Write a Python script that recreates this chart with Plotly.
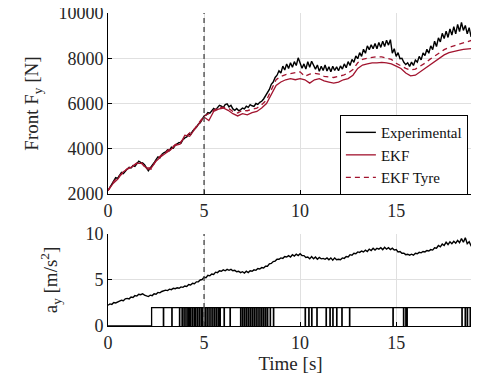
import numpy as np
import plotly.graph_objects as go
from plotly.subplots import make_subplots

# ---------------- data ----------------
t_exp = np.round(np.arange(0, 191) * 0.1, 2)
exp_fy = [
    2150, 2300, 2480, 2600, 2720, 2690, 2850, 2950, 2900, 3020,
    3100, 3180, 3150, 3260, 3220, 3330, 3450, 3400, 3380, 3300,
    3150, 3030, 3150, 3250, 3380, 3520, 3640, 3600, 3750, 3820,
    3860, 3950, 3920, 4070, 4030, 4150, 4200, 4280, 4250, 4400,
    4480, 4520, 4650, 4620, 4780, 4850, 4950, 5080, 5150, 5300,
    5450, 5480, 5600, 5570, 5700, 5780, 5720, 5850, 5920, 5880,
    5820, 5950, 5980, 5850, 5920, 5760, 5700, 5780, 5680, 5720,
    5800, 5760, 5880, 5830, 5950, 5900, 5870, 6000, 5960, 6050,
    6100, 6200, 6350, 6500, 6620, 6850, 6950, 7150, 7250, 7450,
    7350, 7650, 7480, 7750, 7550, 7800, 7600, 7850, 7680, 8020,
    7820, 7560, 7750, 7520, 7850, 7600, 7870, 7650, 7520, 7700,
    7420, 7650, 7460, 7700, 7440, 7620, 7400, 7650, 7460, 7620,
    7450, 7660, 7520, 7750, 7580, 7850, 7680, 7950, 7820, 8100,
    7980, 8250, 8080, 8400, 8220, 8550, 8380, 8600, 8420, 8650,
    8420, 8700, 8480, 8750, 8520, 8800, 8580, 8820, 8220, 8420,
    8080, 8250, 7980, 8000, 7820, 7720, 7800, 7640, 7830, 7680,
    7920, 7830, 8080, 7930, 8230, 8120, 8400, 8220, 8550, 8380,
    8750, 8520, 8900, 8720, 9100, 8870, 9200, 8920, 9300, 9020,
    9400, 9080, 9500, 9180, 9580, 9230, 9450, 9080, 9350, 8950,
    9200,
]

t_ekf = np.round(np.arange(0, 77) * 0.25, 2)
ekf_fy = [
    2150, 2450, 2650, 2950, 3100, 3200, 3350, 3350, 3150, 3150,
    3450, 3650, 3800, 3950, 4150, 4200, 4600, 4550, 4850, 5100,
    5400, 5250, 5650, 5750, 5800, 5700, 5550, 5450, 5550, 5500,
    5600, 5650, 5800, 6000, 6400, 6800, 6950, 7050, 7100, 7050,
    7100, 7050, 6900, 7050, 7100, 7000, 6950, 6900, 6950, 7050,
    7100, 7250, 7550, 7700, 7750, 7800, 7800, 7820, 7800, 7750,
    7650, 7550, 7350, 7220, 7250, 7400, 7550, 7700, 7880, 8020,
    8150, 8250, 8310, 8350, 8390, 8420, 8440,
]
ekf_tyre_fy = [
    2150, 2500, 2750, 2900, 3120, 3220, 3380, 3380, 3100, 3100,
    3500, 3700, 3850, 4000, 4180, 4280, 4500, 4700, 4880, 5150,
    5450, 5550, 5700, 5830, 5830, 5800, 5650, 5580, 5700, 5680,
    5750, 5800, 5950, 6150, 6600, 7050, 7200, 7280, 7320, 7350,
    7400, 7200, 7300, 7330, 7300, 7200, 7180, 7150, 7200, 7250,
    7350, 7500, 7800, 7950, 8000, 8050, 8070, 8060, 8020, 7950,
    7780, 7650, 7550, 7480, 7520, 7650, 7780, 7950, 8100, 8250,
    8380, 8480, 8550, 8620, 8700, 8760, 8810,
]

ay = [
    2.25, 2.4, 2.35, 2.55, 2.5, 2.65, 2.7, 2.8, 2.75, 2.95,
    3.0, 2.95, 3.15, 3.1, 3.3, 3.25, 3.45, 3.4, 3.5, 3.35,
    3.3, 3.2, 3.35, 3.3, 3.5, 3.45, 3.65, 3.6, 3.75, 3.8,
    3.9, 3.85, 4.0, 3.95, 4.1, 4.05, 4.15, 4.1, 4.25, 4.2,
    4.35, 4.3, 4.5, 4.45, 4.65, 4.6, 4.8, 4.8, 5.0, 5.05,
    5.3, 5.25, 5.5, 5.45, 5.65, 5.6, 5.85, 5.8, 6.0, 5.95,
    6.1, 6.0, 6.15, 6.05, 6.15, 6.0, 6.05, 5.9, 5.95, 5.8,
    5.9, 5.75, 5.95, 5.8, 6.0, 5.95, 6.1, 6.05, 6.25, 6.2,
    6.35, 6.3, 6.5, 6.5, 6.75, 6.8, 7.0, 7.05, 7.25, 7.25,
    7.4, 7.35, 7.55, 7.5, 7.65, 7.5, 7.75, 7.6, 7.8, 7.65,
    7.85, 7.65, 7.65, 7.45, 7.5, 7.3, 7.55, 7.3, 7.5, 7.25,
    7.45, 7.3, 7.35, 7.25, 7.4, 7.2, 7.4, 7.15, 7.4, 7.2,
    7.25, 7.2, 7.4, 7.35, 7.55, 7.5, 7.75, 7.7, 7.9, 7.85,
    8.05, 8.0, 8.15, 8.05, 8.25, 8.1, 8.35, 8.2, 8.45, 8.25,
    8.45, 8.35, 8.5, 8.3, 8.55, 8.35, 8.5, 8.3, 8.45, 8.25,
    8.3, 8.05, 8.1, 7.9, 7.9, 7.75, 7.8, 7.7, 7.8, 7.7,
    7.9, 7.85, 8.0, 7.95, 8.1, 8.05, 8.2, 8.15, 8.3, 8.25,
    8.5, 8.45, 8.75, 8.6, 8.9, 8.75, 9.1, 8.85, 9.15, 8.95,
    9.2, 9.0, 9.3, 9.05, 9.5, 9.1, 9.6, 8.95, 9.15, 8.7,
    8.5,
]

# flag signal: off until flag_on, then high with brief drops at these times
flag_on = 2.27
flag_level = 2
flag_drops = [
    2.88, 3.32, 3.72, 3.85, 3.95, 4.05, 4.15, 4.22, 4.3, 4.4, 4.5, 4.55,
    4.65, 4.75, 4.85, 4.92, 5.05, 5.15, 5.25, 5.35, 5.45, 5.55, 5.65, 5.75,
    5.83, 6.04, 6.35, 6.9, 7.0, 7.1, 7.2, 7.3, 7.4, 7.5, 7.6, 7.7, 7.8,
    7.9, 8.0, 8.1, 8.2, 8.3, 8.44, 8.61, 10.26, 10.45, 10.6, 10.87, 11.35,
    11.55, 11.7, 11.9, 12.17, 12.57, 14.83, 15.38, 15.5, 15.56, 18.42,
    18.59, 18.7, 18.85,
]
t_end = 19.0
event_time = 5

x_ticks = [0, 5, 10, 15]
fy_ticks = [2000, 4000, 6000, 8000, 10000]
ay_ticks = [0, 5, 10]

# ---------------- figure ----------------
RED = "#A2142F"
FONT = "Liberation Serif, Times New Roman, DejaVu Serif, serif"
TXT = "#262626"
GRID = "#e0e0e0"

flag_t = [0, flag_on]
flag_v = [0, flag_level]
for d in flag_drops:
    flag_t += [d, d + 0.02]
    flag_v += [0, flag_level]
flag_t.append(t_end)
flag_v.append(flag_level)

fig = make_subplots(rows=2, cols=1, shared_xaxes=False, vertical_spacing=0.0)

# top-edge grid lines (plotly skips grid lines at the range edge)
fig.add_hline(y=fy_ticks[-1], line=dict(color=GRID, width=1), row=1, col=1)
fig.add_hline(y=ay_ticks[-1], line=dict(color=GRID, width=1), row=2, col=1)

fig.add_trace(go.Scatter(x=t_exp, y=exp_fy, mode="lines", name="Experimental",
                         line=dict(color="black", width=1.4)), row=1, col=1)
fig.add_trace(go.Scatter(x=t_ekf, y=ekf_fy, mode="lines", name="EKF",
                         line=dict(color=RED, width=1.3)), row=1, col=1)
fig.add_trace(go.Scatter(x=t_ekf, y=ekf_tyre_fy, mode="lines", name="EKF Tyre",
                         line=dict(color=RED, width=1.3, dash="5px,4px")), row=1, col=1)

fig.add_trace(go.Scatter(x=t_exp, y=ay, mode="lines", showlegend=False,
                         line=dict(color="black", width=1.4)), row=2, col=1)
fig.add_trace(go.Scatter(x=flag_t, y=flag_v, mode="lines", showlegend=False,
                         line=dict(color="black", width=1.3, shape="hv")), row=2, col=1)

axis_common = dict(
    showline=True, linecolor="black", linewidth=1,
    ticks="inside", ticklen=4, tickcolor="black",
    showgrid=True, gridcolor=GRID, gridwidth=1,
    zeroline=False, mirror=False, automargin=False,
    ticklabeloverflow="allow",
    tickfont=dict(family=FONT, size=18, color=TXT),
)

fig.update_xaxes(**axis_common, range=[0, t_end], tickvals=x_ticks)
fig.update_xaxes(title=dict(text="Time [s]", font=dict(family=FONT, size=19, color=TXT),
                            standoff=2), row=2, col=1)

fig.update_yaxes(**axis_common)
fig.update_yaxes(range=[2000, 10000], tickvals=fy_ticks, tickformat="d",
                 domain=[0.4217, 1],
                 title=dict(text="Front F<sub>y</sub> [N]",
                            font=dict(family=FONT, size=19, color=TXT), standoff=14),
                 row=1, col=1)
fig.update_yaxes(range=[0, 10], tickvals=ay_ticks, domain=[0, 0.294],
                 title=dict(text="a<sub>y</sub> [m/s<sup>2</sup>]",
                            font=dict(family=FONT, size=19, color=TXT), standoff=22),
                 row=2, col=1)

for r in (1, 2):
    fig.add_vline(x=event_time, line=dict(color="#444", width=1.3, dash="5px,4px"),
                  row=r, col=1)

# the page body adds an 8px offset; margins compensate so the axes land in place
fig.update_layout(
    width=479, height=383,
    margin=dict(l=100, r=14, t=5, b=65),
    plot_bgcolor="white", paper_bgcolor="white",
    font=dict(family=FONT, color=TXT),
    legend=dict(
        x=0.986, y=0.546, xanchor="right", yanchor="middle",
        bgcolor="white", bordercolor="black", borderwidth=1,
        font=dict(family=FONT, size=15, color="#111"),
        itemwidth=30, tracegroupgap=0,
    ),
)

fig.write_html("out.html")
